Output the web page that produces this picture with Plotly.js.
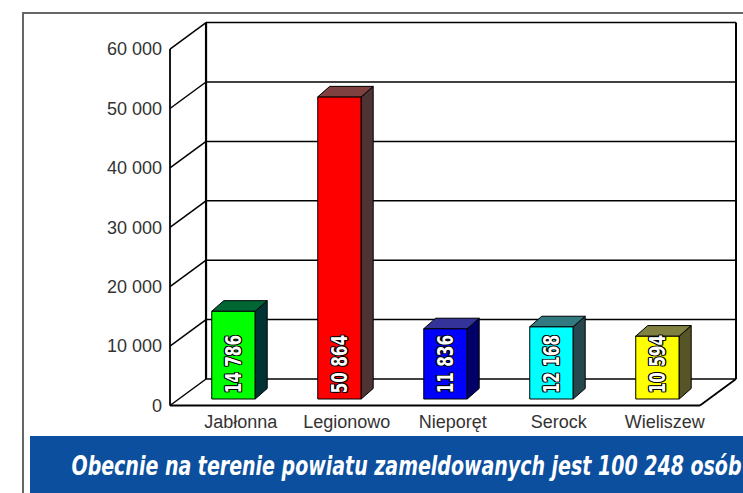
<!DOCTYPE html>
<html>
<head>
<meta charset="utf-8">
<script src="https://cdn.plot.ly/plotly-3.0.1.min.js"></script>
<style>html,body{margin:0;padding:0;background:#fff;}#chart{width:743px;height:493px;}</style>
</head>
<body>
<div id="chart"></div>
<script>
// ---- data ----
const categories = ['Jabłonna', 'Legionowo', 'Nieporęt', 'Serock', 'Wieliszew'];
const values = [14786, 50864, 11836, 12168, 10594];
const valueLabels = ['14 786', '50 864', '11 836', '12 168', '10 594'];
const frontColors = ['#00ff00', '#ff0000', '#0000ff', '#00ffff', '#ffff00'];
const topColors = ['#006633', '#7f4040', '#333399', '#337a80', '#808040'];
const sideColors = ['#003333', '#4d3333', '#000066', '#26474d', '#555528'];
const tickValues = [0, 10000, 20000, 30000, 40000, 50000, 60000];
const tickLabels = ['0', '10 000', '20 000', '30 000', '40 000', '50 000', '60 000'];
const bannerText = 'Obecnie na terenie powiatu zameldowanych jest 100 248 osób';

// ---- geometry / style ----
const W = 743, H = 493;
const M = {l: 166, r: 3, t: 20, b: 84};
const XMIN = -0.5 - 4 / 106, XMAX = -0.5 + 570 / 106;
const YMIN = -589, YMAX = 64899;
const AX_X = -0.5;
const WALL_RIGHT = -0.5 + 566 / 106;
const WALL_DX = 0.34, WALL_DY = 4460;
const BAR_SHIFT = 0.099, BAR_BASE = 1094, BAR_W = 0.41;
const BAR_DX = 0.113, BAR_DY = 1768;
const LABEL_SHIFT = 0.168;
const TOPV = tickValues[tickValues.length - 1];
const NARROW = 'DejaVu Sans Condensed, Liberation Sans Narrow, Arial Narrow, sans-serif';

const pw = W - M.l - M.r, ph = H - M.t - M.b;
const px2paperX = p => (p - M.l) / pw;
const px2paperY = p => (H - M.b - p) / ph;

const shapes = [];
const line = (x0, y0, x1, y1, w, c) => shapes.push({type: 'line', xref: 'x', yref: 'y', x0, y0, x1, y1, layer: 'below', line: {color: c || '#000', width: w || 1.5}});

tickValues.forEach(v => {
  line(AX_X + WALL_DX, v + WALL_DY, WALL_RIGHT, v + WALL_DY, 1.5);
  line(AX_X, v, AX_X + WALL_DX, v + WALL_DY, 1.5);
});
line(AX_X + WALL_DX, WALL_DY, AX_X + WALL_DX, TOPV + WALL_DY, 2.2);
line(WALL_RIGHT, WALL_DY, WALL_RIGHT, TOPV + WALL_DY, 2);
line(AX_X, 0, AX_X, TOPV, 1.8);
line(AX_X, 0, WALL_RIGHT - WALL_DX, 0, 1.8);
line(WALL_RIGHT - WALL_DX, 0, WALL_RIGHT, WALL_DY, 1.8);

shapes.push({type: 'line', xref: 'paper', yref: 'paper', x0: px2paperX(23), x1: px2paperX(23), y0: px2paperY(13), y1: px2paperY(500), line: {color: '#666', width: 2}});
shapes.push({type: 'line', xref: 'paper', yref: 'paper', x0: px2paperX(22), x1: px2paperX(760), y0: px2paperY(13), y1: px2paperY(13), line: {color: '#666', width: 2}});
shapes.push({type: 'rect', xref: 'paper', yref: 'paper', x0: px2paperX(30), x1: px2paperX(760), y0: px2paperY(436), y1: px2paperY(510), fillcolor: '#0c4f9f', line: {width: 0}});

const traces = [];
traces.push({
  type: 'bar',
  x: categories.map((c, i) => i + BAR_SHIFT),
  y: values,
  base: values.map(() => BAR_BASE),
  width: BAR_W,
  marker: {color: frontColors, line: {color: '#000', width: 1}},
  hoverinfo: 'skip'
});
values.forEach((v, i) => {
  const xl = i + BAR_SHIFT - BAR_W / 2, xr = i + BAR_SHIFT + BAR_W / 2;
  const b = BAR_BASE, t = BAR_BASE + v;
  traces.push({type: 'scatter', mode: 'lines', fill: 'toself', fillcolor: sideColors[i],
    x: [xr, xr + BAR_DX, xr + BAR_DX, xr, xr], y: [b, b + BAR_DY, t + BAR_DY, t, b],
    line: {color: '#000', width: 1}, hoverinfo: 'skip'});
  traces.push({type: 'scatter', mode: 'lines', fill: 'toself', fillcolor: topColors[i],
    x: [xl, xl + BAR_DX, xr + BAR_DX, xr, xl], y: [t, t + BAR_DY, t + BAR_DY, t, t],
    line: {color: '#000', width: 1}, hoverinfo: 'skip'});
});

const OUTLINE = '-1px -1px 0 #000, 1px -1px 0 #000, -1px 1px 0 #000, 1px 1px 0 #000, 0 1px 0 #000, 0 -1px 0 #000, 1px 0 0 #000, -1px 0 0 #000';
const annotations = [];
const squeeze = [];  // horizontal compression per annotation (to mimic condensed face)
valueLabels.forEach((lab, i) => {
  annotations.push({xref: 'x', yref: 'y', x: i + BAR_SHIFT, y: BAR_BASE, xanchor: 'center', yanchor: 'middle', yshift: 35.5,
    text: lab, showarrow: false, textangle: -90,
    font: {family: NARROW, size: 22, weight: 'bold', color: '#fff', shadow: OUTLINE}});
  squeeze.push({factor: 0.77});
});
annotations.push({
  xref: 'paper', yref: 'paper', x: px2paperX(406), y: px2paperY(465), xanchor: 'center', yanchor: 'middle',
  text: bannerText, showarrow: false,
  font: {family: NARROW, size: 27, weight: 'bold', style: 'italic', color: '#fff'}
});
squeeze.push({length: 670});

const layout = {
  width: W, height: H, margin: M,
  paper_bgcolor: '#fff', plot_bgcolor: 'rgba(0,0,0,0)',
  showlegend: false, hovermode: false,
  font: {family: 'Liberation Sans, Arial, sans-serif', size: 18, color: '#333'},
  xaxis: {range: [XMIN, XMAX], showgrid: false, zeroline: false, showline: false, ticks: '',
    tickvals: categories.map((c, i) => i + LABEL_SHIFT), ticktext: categories, ticklabelstandoff: 0, fixedrange: true},
  yaxis: {range: [YMIN, YMAX], showgrid: false, zeroline: false, showline: false, ticks: '',
    tickvals: tickValues, ticktext: tickLabels, ticklabelstandoff: 3, fixedrange: true},
  shapes: shapes,
  annotations: annotations
};

Plotly.newPlot('chart', traces, layout, {staticPlot: true, displayModeBar: false}).then(gd => {
  gd.querySelectorAll('g.annotation').forEach(g => {
    const idx = +g.getAttribute('data-index');
    const sq = squeeze[idx];
    const t = g.querySelector('text.annotation-text');
    if (!sq || !t) return;
    const nat = t.getComputedTextLength();
    const len = sq.length ? sq.length : nat * sq.factor;
    t.setAttribute('textLength', len.toFixed(1));
    t.setAttribute('lengthAdjust', 'spacingAndGlyphs');
  });
});
</script>
</body>
</html>
